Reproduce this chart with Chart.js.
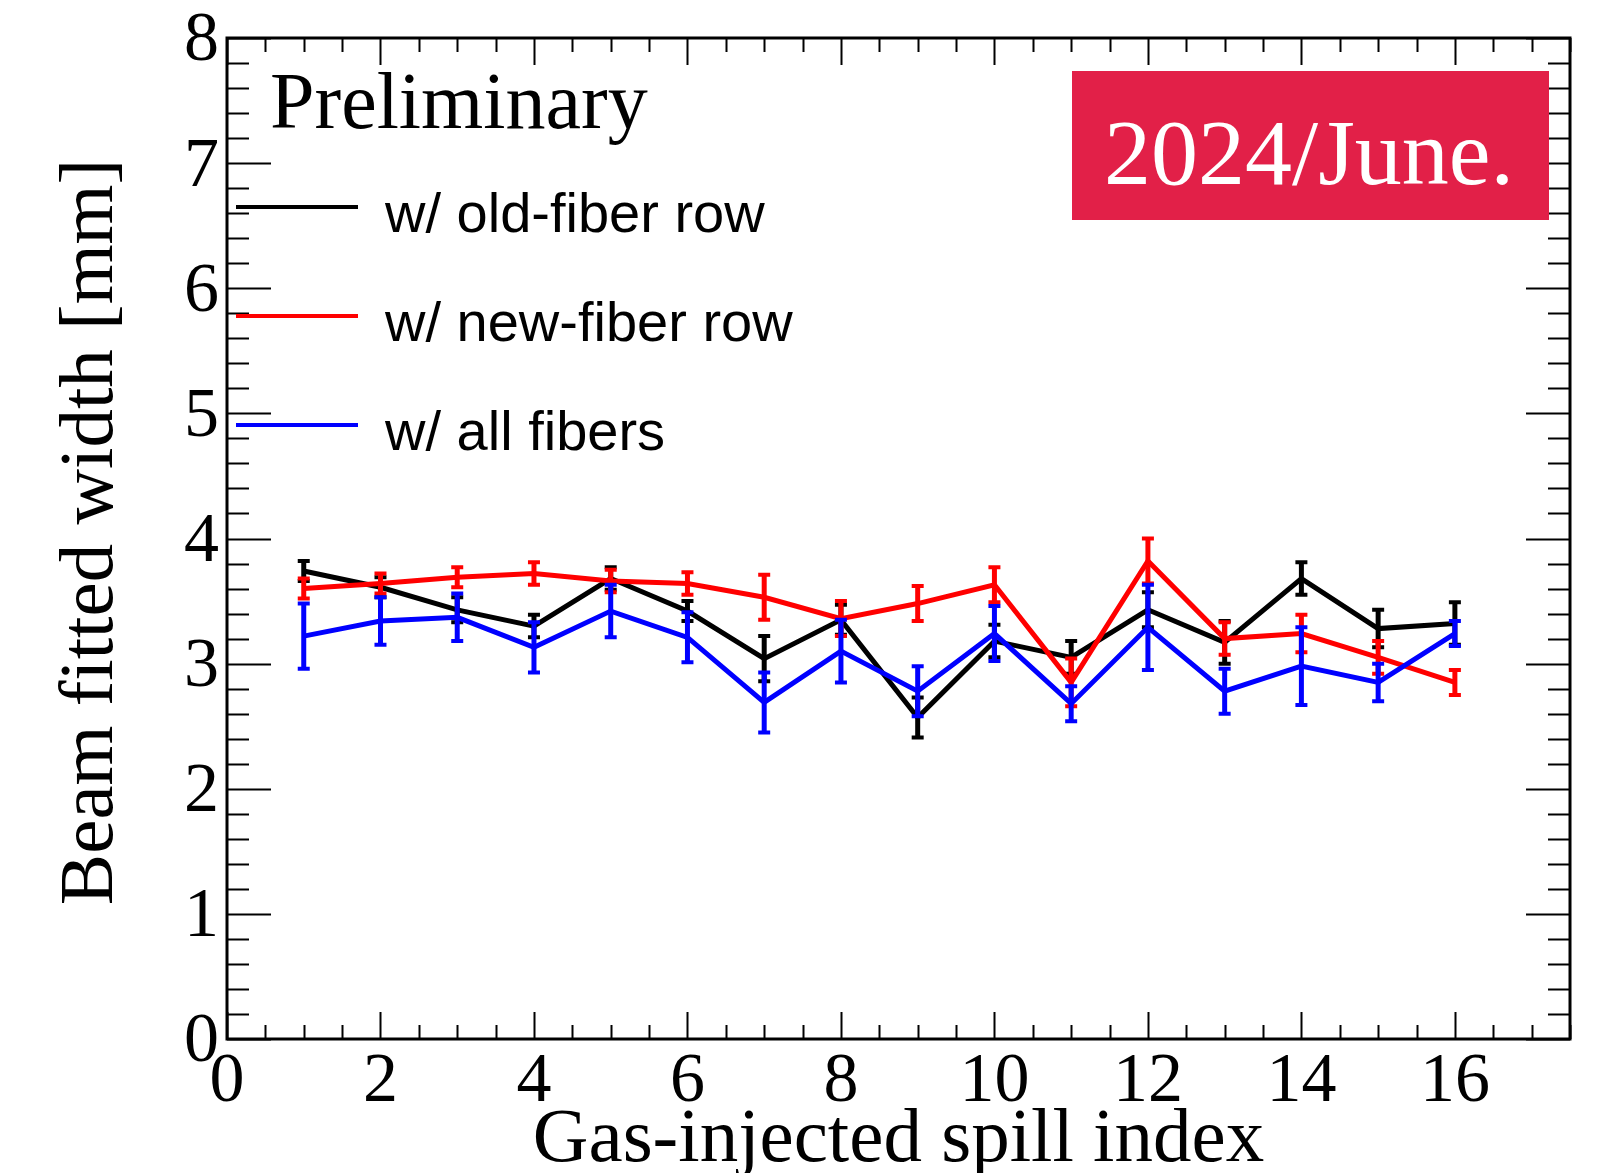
<!DOCTYPE html>
<html>
<head>
<meta charset="utf-8">
<script src="https://cdn.jsdelivr.net/npm/chart.js@4.4.1/dist/chart.umd.min.js"></script>
<style>
    body { margin: 0; background: #fff; }
    #wrap { width: 1597px; height: 1173px; }
</style>
</head>
<body>
<div id="wrap"><canvas id="widthChart" width="1597" height="1173"></canvas></div>
<script>
// Spill index and fitted beam widths [mm]
const spills = [1, 2, 3, 4, 5, 6, 7, 8, 9, 10, 11, 12, 13, 14, 15, 16];

const oldFiber    = [3.74, 3.61, 3.43, 3.30, 3.68, 3.42, 3.04, 3.35, 2.57, 3.18, 3.05, 3.43, 3.17, 3.68, 3.28, 3.32];
const oldFiberErr = [0.08, 0.08, 0.10, 0.09, 0.09, 0.08, 0.18, 0.12, 0.16, 0.13, 0.13, 0.14, 0.17, 0.13, 0.15, 0.17];

const newFiber    = [3.60, 3.64, 3.69, 3.72, 3.66, 3.64, 3.53, 3.36, 3.48, 3.63, 2.85, 3.82, 3.20, 3.24, 3.05, 2.85];
const newFiberErr = [0.08, 0.08, 0.08, 0.09, 0.09, 0.09, 0.18, 0.14, 0.14, 0.14, 0.19, 0.18, 0.13, 0.15, 0.13, 0.10];

const allFibers    = [3.22, 3.34, 3.37, 3.13, 3.42, 3.21, 2.69, 3.10, 2.78, 3.24, 2.68, 3.29, 2.78, 2.98, 2.85, 3.24];
const allFibersErr = [0.26, 0.19, 0.19, 0.20, 0.21, 0.20, 0.24, 0.25, 0.20, 0.22, 0.14, 0.34, 0.18, 0.31, 0.15, 0.10];

const legendLabels = ['w/ old-fiber row', 'w/ new-fiber row', 'w/ all fibers'];
const seriesColors = ['#000000', '#ff0000', '#0000ff'];

const xTitle = 'Gas-injected spill index';
const yTitle = 'Beam fitted width [mm]';

const SERIF = '"Liberation Serif", "DejaVu Serif", serif';
const SANS = '"Liberation Sans", Arial, sans-serif';

function toPoints(values) {
    return spills.map((s, i) => ({ x: s, y: values[i] }));
}

// Vertical error bars with small caps, drawn right after each line
const errorBars = {
    id: 'errorBars',
    afterDatasetDraw(chart, args) {
        const ds = chart.data.datasets[args.index];
        if (!ds.errors) return;
        const ctx = chart.ctx;
        const xs = chart.scales.x;
        const ys = chart.scales.y;
        ctx.save();
        ctx.strokeStyle = ds.borderColor;
        ds.data.forEach((p, i) => {
            const px = xs.getPixelForValue(p.x);
            const top = ys.getPixelForValue(p.y + ds.errors[i]);
            const bot = ys.getPixelForValue(p.y - ds.errors[i]);
            ctx.lineWidth = 5;
            ctx.beginPath();
            ctx.moveTo(px, top);
            ctx.lineTo(px, bot);
            ctx.stroke();
            ctx.lineWidth = 4;
            ctx.beginPath();
            ctx.moveTo(px - 6, top);
            ctx.lineTo(px + 6, top);
            ctx.moveTo(px - 6, bot);
            ctx.lineTo(px + 6, bot);
            ctx.stroke();
        });
        ctx.restore();
    }
};

// ROOT style frame: box with inward ticks on all four sides, titles, legend, labels
const rootFrame = {
    id: 'rootFrame',
    afterDraw(chart) {
        const ctx = chart.ctx;
        const area = chart.chartArea;
        const xs = chart.scales.x;
        const ys = chart.scales.y;

        ctx.save();
        ctx.strokeStyle = '#000';
        ctx.lineWidth = 2;

        // y ticks, left and right
        for (let k = 0; k <= 40; k++) {
            const v = k * 0.2;
            const py = Math.round(ys.getPixelForValue(v)) + 0.5;
            const len = (k % 5 === 0) ? 44 : 22;
            ctx.beginPath();
            ctx.moveTo(area.left, py);
            ctx.lineTo(area.left + len, py);
            ctx.moveTo(area.right, py);
            ctx.lineTo(area.right - len, py);
            ctx.stroke();
        }
        // x ticks, bottom and top
        for (let k = 0; k <= 35; k++) {
            const v = k * 0.5;
            const px = Math.round(xs.getPixelForValue(v)) + 0.5;
            const len = (k % 4 === 0) ? 27 : 14;
            ctx.beginPath();
            ctx.moveTo(px, area.bottom);
            ctx.lineTo(px, area.bottom - len);
            ctx.moveTo(px, area.top);
            ctx.lineTo(px, area.top + len);
            ctx.stroke();
        }

        ctx.lineWidth = 3;
        ctx.strokeRect(area.left, area.top, area.right - area.left, area.bottom - area.top);

        // axis titles
        ctx.fillStyle = '#000';
        ctx.font = '77px ' + SERIF;
        ctx.textAlign = 'center';
        ctx.textBaseline = 'alphabetic';
        ctx.fillText(xTitle, (area.left + area.right) / 2, 1161);
        ctx.save();
        ctx.translate(112, 532);
        ctx.rotate(-Math.PI / 2);
        ctx.fillText(yTitle, 0, 0);
        ctx.restore();

        // Preliminary
        ctx.textAlign = 'left';
        ctx.font = '80px ' + SERIF;
        ctx.fillText('Preliminary', 270, 128);

        // legend
        const legendY = [207, 316, 425];
        legendLabels.forEach((label, i) => {
            ctx.strokeStyle = seriesColors[i];
            ctx.lineWidth = 4;
            ctx.beginPath();
            ctx.moveTo(236, legendY[i]);
            ctx.lineTo(358, legendY[i]);
            ctx.stroke();
            ctx.fillStyle = '#000';
            ctx.font = '56px ' + SANS;
            ctx.fillText(label, 385, legendY[i] + 25);
        });

        // date badge
        ctx.fillStyle = '#e22048';
        ctx.fillRect(1072, 71, 477, 149);
        ctx.fillStyle = '#fff';
        ctx.font = '94px ' + SERIF;
        ctx.textAlign = 'center';
        ctx.fillText('2024/June.', 1309, 184);

        ctx.restore();
    }
};

const ctx = document.getElementById('widthChart').getContext('2d');

new Chart(ctx, {
    type: 'line',
    data: {
        datasets: [
            { label: legendLabels[0], data: toPoints(oldFiber), errors: oldFiberErr, borderColor: seriesColors[0], order: 3 },
            { label: legendLabels[1], data: toPoints(newFiber), errors: newFiberErr, borderColor: seriesColors[1], order: 2 },
            { label: legendLabels[2], data: toPoints(allFibers), errors: allFibersErr, borderColor: seriesColors[2], order: 1 }
        ]
    },
    options: {
        responsive: false,
        animation: false,
        layout: { padding: { top: 38, right: 27, bottom: 0, left: 0 } },
        elements: {
            line: { borderWidth: 5, tension: 0, fill: false },
            point: { radius: 0, hoverRadius: 0 }
        },
        plugins: {
            legend: { display: false },
            tooltip: { enabled: false }
        },
        scales: {
            x: {
                type: 'linear',
                min: 0,
                max: 17.5,
                grid: { display: false },
                border: { display: false },
                ticks: {
                    stepSize: 2,
                    includeBounds: false,
                    maxRotation: 0,
                    autoSkip: false,
                    padding: 1,
                    color: '#000',
                    font: { family: SERIF, size: 70, lineHeight: 1 }
                },
                afterFit(scale) {
                    scale.height = 134;
                    scale.paddingLeft = 0;
                    scale.paddingRight = 0;
                }
            },
            y: {
                min: 0,
                max: 8,
                grid: { display: false },
                border: { display: false },
                ticks: {
                    stepSize: 1,
                    padding: 0,
                    labelOffset: 4,
                    color: '#000',
                    font: { family: SERIF, size: 70, lineHeight: 1 }
                },
                afterFit(scale) {
                    scale.width = 227;
                    scale.paddingTop = 0;
                    scale.paddingBottom = 0;
                }
            }
        }
    },
    plugins: [errorBars, rootFrame]
});
</script>
</body>
</html>
